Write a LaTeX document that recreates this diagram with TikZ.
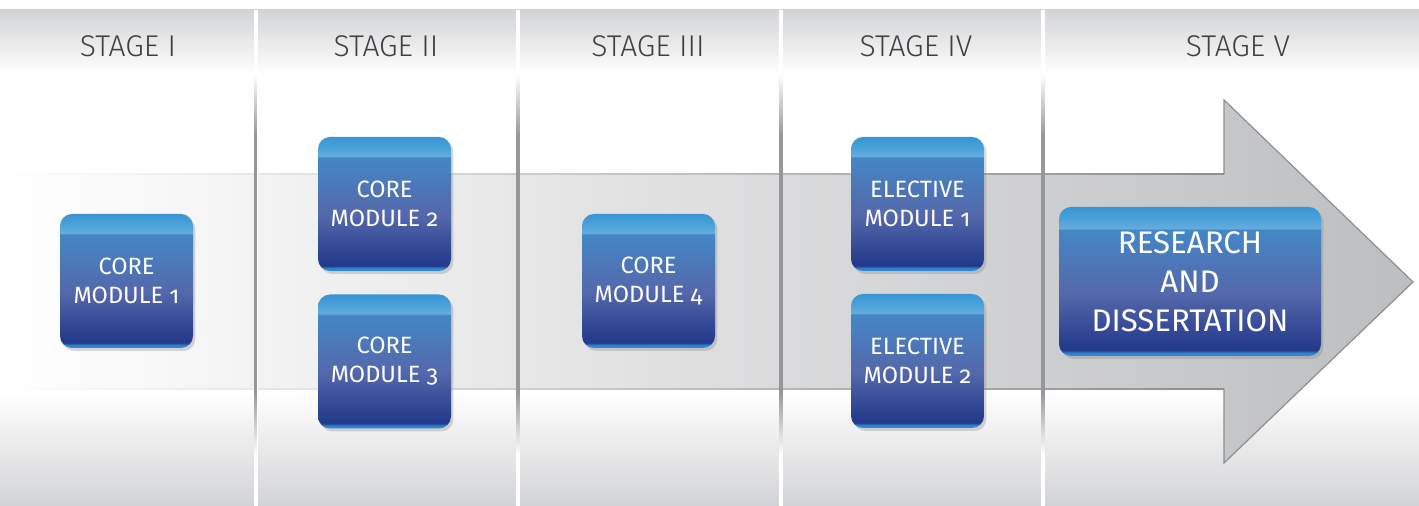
\documentclass[tikz,border=0pt]{standalone}
\usepackage{fontspec}
\setmainfont{Fira Sans}[Numbers=OldStyle]
\newfontfamily\stagefont{Fira Sans Light}
\usepackage{tikz}
\usetikzlibrary{shadows}

\definecolor{bandgray}{HTML}{D2D3D5}
\definecolor{arrowgray}{HTML}{BDBEC0}
\definecolor{arrowline}{HTML}{8D8E90}
\definecolor{sepgray}{HTML}{96979A}
\definecolor{stagetext}{HTML}{404042}
\definecolor{bxedge}{HTML}{2F86D2}
\definecolor{bxdark}{HTML}{22388A}
\definecolor{bxmid}{HTML}{5468AB}
\definecolor{bxtop}{HTML}{4487C6}
\definecolor{bxlow}{HTML}{66ACDD}
\definecolor{bxhi}{HTML}{4AA2DA}
\definecolor{bxcap}{HTML}{3A95D4}

\pgfdeclareverticalshading{modshade}{100bp}{color(0bp)=(bxedge); color(25bp)=(bxedge);
  color(26bp)=(bxedge); color(27bp)=(bxdark); color(46bp)=(bxmid); color(67.4bp)=(bxtop);
  color(67.8bp)=(bxlow); color(71bp)=(bxhi); color(75bp)=(bxcap); color(100bp)=(bxcap)}
\pgfdeclareverticalshading{sepshade}{100bp}{color(0bp)=(white); color(25bp)=(white);
  color(33.3bp)=(sepgray); color(67bp)=(sepgray); color(75bp)=(white); color(100bp)=(white)}

\begin{document}
\begin{tikzpicture}[x=0.5pt,y=-0.5pt]
	\useasboundingbox (0,0) rectangle (1419,506);
	% bands
	\fill[white] (0,0) rectangle (1419,506);
	\shade[top color=bandgray, bottom color=white] (0,10) rectangle (1419,74);
	\shade[top color=white, bottom color=bandgray] (0,392) rectangle (1419,506);

	% big arrow
	\shade[left color=white, right color=arrowgray] (0,174) -- (1224,174) -- (1224,100)
	    -- (1413,282) -- (1224,463) -- (1224,389) -- (0,389) -- cycle;
	\draw[arrowline, line width=0.6pt] (1224,174) -- (1224,100) -- (1413,282) -- (1224,463) -- (1224,389);
	\shade[left color=white, right color=arrowline] (0,173.4) rectangle (1224,174.6);
	\shade[left color=white, right color=arrowline] (0,388.4) rectangle (1224,389.6);

	% column separators
	\foreach \sx in {255.5,518,781,1043} {
	    \fill[white] (\sx-2,10) rectangle (\sx+2,506);
	    \shade[shading=sepshade] (\sx-1.4,74) rectangle (\sx+1.4,455);
	}

	\begin{scope}[every node/.style={font=\stagefont\fontsize{15}{18}\selectfont,
	              text=stagetext, anchor=base}]
	    \node (s1) at (128,57) {STAGE I};
	    \node (s2) at (386,57) {STAGE II};
	    \node (s3) at (648,57) {STAGE III};
	    \node (s4) at (916,57) {STAGE IV};
	    \node (s5) at (1238,57) {STAGE V};
	\end{scope}

	\begin{scope}[every node/.style={shade, shading=modshade, rounded corners=6pt,
	              minimum width=66.5pt, minimum height=67pt, inner sep=0pt,
	              align=center, text=white, font=\fontsize{11.8}{14.5}\selectfont,
	              drop shadow={shadow xshift=1.2pt, shadow yshift=-1.5pt, opacity=0.3}}]
	    \node (core1) at (126.5,281) {CORE\\MODULE 1};
	    \node (core2) at (384.5,204) {CORE\\MODULE 2};
	    \node (core3) at (384.5,361.5) {CORE\\MODULE 3};
	    \node (core4) at (648.5,281) {CORE\\MODULE 4};
	    \node (elec1) at (917.5,204) {ELECTIVE\\MODULE 1};
	    \node (elec2) at (917.5,361) {ELECTIVE\\MODULE 2};
	    \node[minimum width=131pt, minimum height=74.5pt, font=\fontsize{15.6}{19.5}\selectfont]
	        (research) at (1190,281.5) {RESEARCH\\AND\\DISSERTATION};
	\end{scope}
\end{tikzpicture}
\end{document}
